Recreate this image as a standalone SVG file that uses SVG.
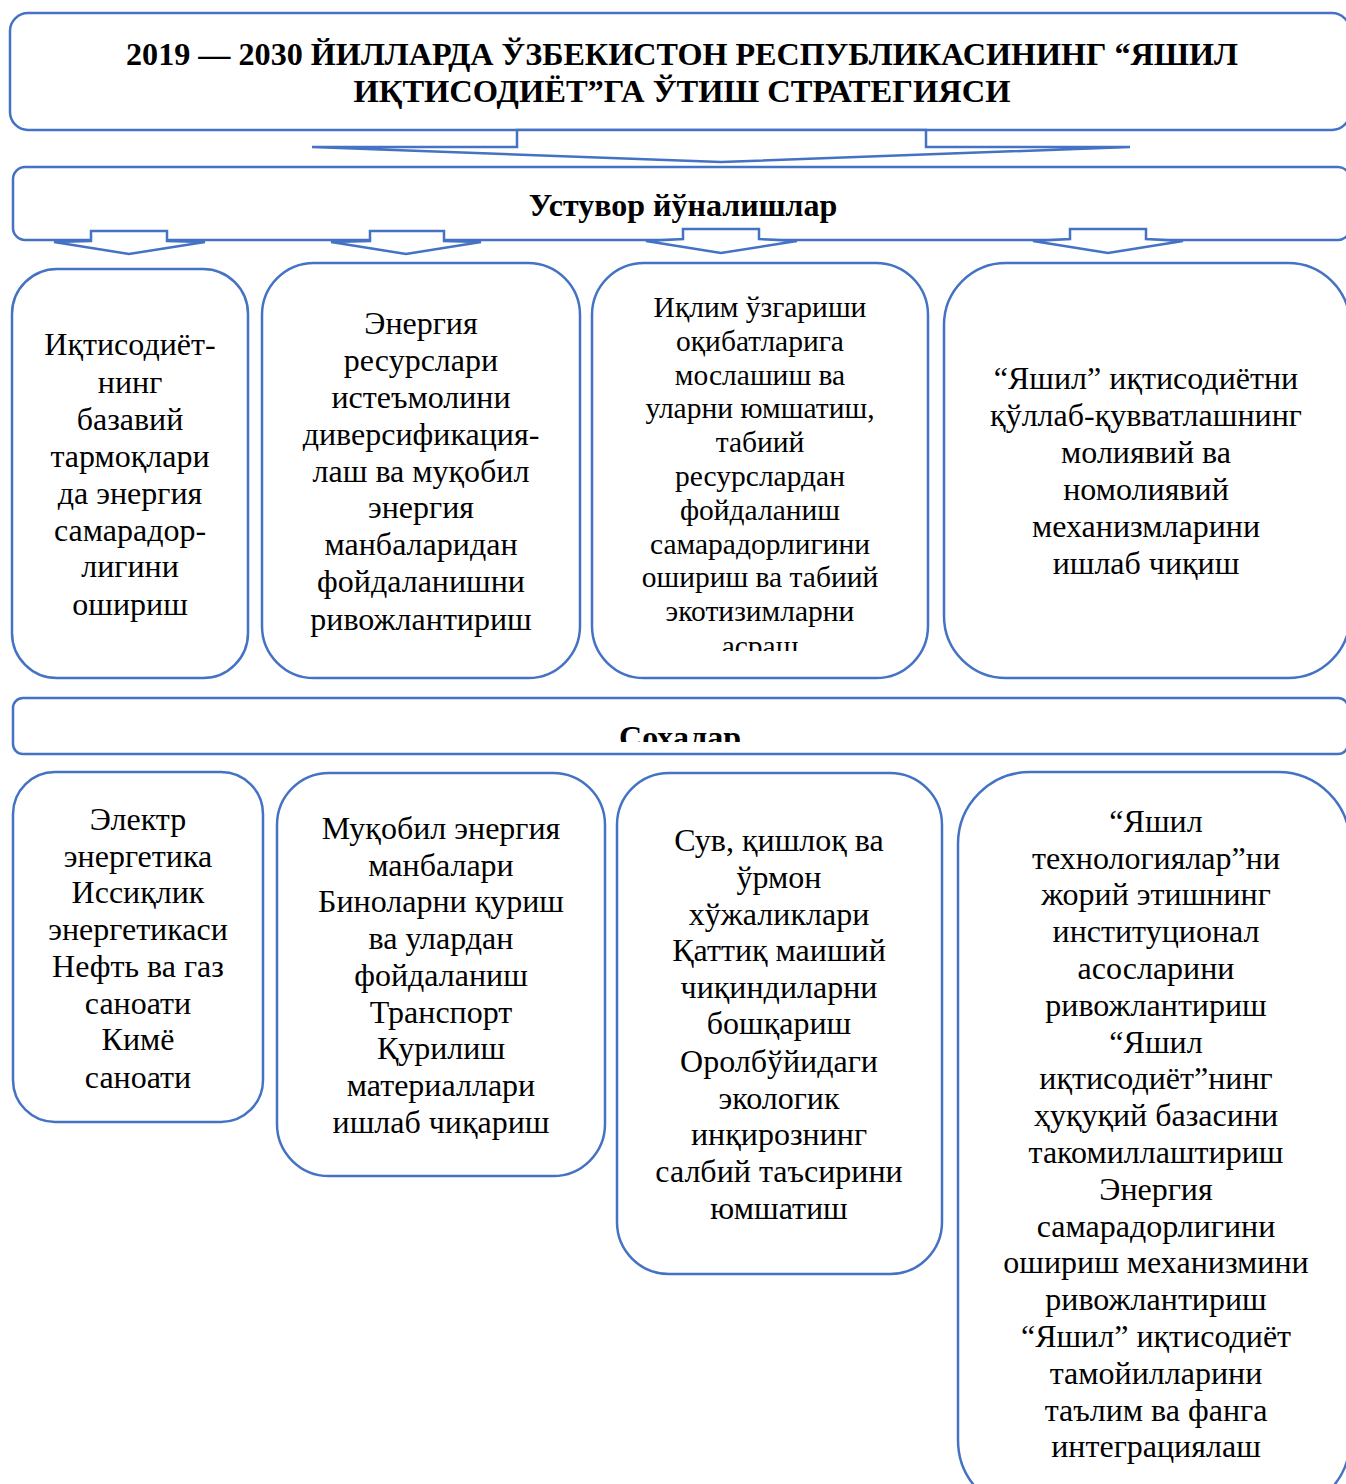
<svg xmlns="http://www.w3.org/2000/svg" width="1346" height="1484" viewBox="0 0 1346 1484">
<style>
.box{fill:#fff;stroke:#4472C4;stroke-width:2.5}
.arr{fill:#fff;stroke:#4472C4;stroke-width:2.5;stroke-linejoin:miter}
text{font-family:"Liberation Serif","Times New Roman",serif;fill:#000;text-anchor:middle}
.t{font-size:32px}
.s{font-size:29.5px}
.b{font-weight:bold;font-size:32px}
</style>
<defs>
<clipPath id="clipC"><rect x="592" y="263" width="336" height="388"/></clipPath>
<clipPath id="clipS"><rect x="13" y="698" width="1335" height="44"/></clipPath>
</defs>
<rect width="1346" height="1484" fill="#fff"/>

<g id="title">
<rect class="box" x="10" y="13" width="1340" height="117" rx="18"/>
<text class="b" x="682" y="65" textLength="1112" lengthAdjust="spacingAndGlyphs">2019 — 2030 ЙИЛЛАРДА ЎЗБЕКИСТОН РЕСПУБЛИКАСИНИНГ “ЯШИЛ</text>
<text class="b" x="682" y="102" textLength="657" lengthAdjust="spacingAndGlyphs">ИҚТИСОДИЁТ”ГА ЎТИШ СТРАТЕГИЯСИ</text>
</g>

<g id="priorities">
<rect class="box" x="13" y="167" width="1337" height="73" rx="12"/>
<text class="b" x="683" y="216">Устувор йўналишлар</text>
</g>

<g id="connectors">
<polygon class="arr" points="517,130 926,130 926,147 1130,147 721,162 312,147 517,147"/>
<polygon class="arr" points="91,231 167,231 167,241 205,242 129,254 54,242 91,241"/>
<polygon class="arr" points="370,231 444,231 444,241 481,242 406,254 331,242 370,241"/>
<polygon class="arr" points="683,229 759,229 759,239 797,241 721,253 646,241 683,239"/>
<polygon class="arr" points="1070,229 1146,229 1146,239 1183,241 1108,253 1033,241 1070,239"/>
</g>

<g id="p1">
<rect class="box" x="12" y="269" width="236" height="409" rx="45"/>
<text class="t" x="130"><tspan x="130" y="355">Иқтисодиёт-</tspan><tspan x="130" y="393">нинг</tspan><tspan x="130" y="430">базавий</tspan><tspan x="130" y="467">тармоқлари</tspan><tspan x="130" y="504">да энергия</tspan><tspan x="130" y="541">самарадор-</tspan><tspan x="130" y="577">лигини</tspan><tspan x="130" y="615">ошириш</tspan></text>
</g>

<g id="p2">
<rect class="box" x="262" y="263" width="318" height="415" rx="52"/>
<text class="t" x="421"><tspan x="421" y="334">Энергия</tspan><tspan x="421" y="371">ресурслари</tspan><tspan x="421" y="408">истеъмолини</tspan><tspan x="421" y="445">диверсификация-</tspan><tspan x="421" y="482">лаш ва муқобил</tspan><tspan x="421" y="518">энергия</tspan><tspan x="421" y="555">манбаларидан</tspan><tspan x="421" y="592">фойдаланишни</tspan><tspan x="421" y="630">ривожлантириш</tspan></text>
</g>

<g id="p3">
<rect class="box" x="592" y="263" width="336" height="415" rx="52"/>
<text class="s" x="760" clip-path="url(#clipC)"><tspan x="760" y="317">Иқлим ўзгариши</tspan><tspan x="760" y="351">оқибатларига</tspan><tspan x="760" y="385">мослашиш ва</tspan><tspan x="760" y="418">уларни юмшатиш,</tspan><tspan x="760" y="452">табиий</tspan><tspan x="760" y="486">ресурслардан</tspan><tspan x="760" y="520">фойдаланиш</tspan><tspan x="760" y="554">самарадорлигини</tspan><tspan x="760" y="587">ошириш ва табиий</tspan><tspan x="760" y="621">экотизимларни</tspan><tspan x="760" y="656">асраш</tspan></text>
</g>

<g id="p4">
<rect class="box" x="944" y="263" width="406" height="415" rx="62"/>
<text class="t" x="1146"><tspan x="1146" y="389">“Яшил” иқтисодиётни</tspan><tspan x="1146" y="426">қўллаб-қувватлашнинг</tspan><tspan x="1146" y="463">молиявий ва</tspan><tspan x="1146" y="500">номолиявий</tspan><tspan x="1146" y="537">механизмларини</tspan><tspan x="1146" y="574">ишлаб чиқиш</tspan></text>
</g>

<g id="sectors">
<rect class="box" x="13" y="698" width="1335" height="56" rx="10"/>
<text class="b" x="680" y="748" clip-path="url(#clipS)">Сохалар</text>
</g>

<g id="s1">
<rect class="box" x="13" y="772" width="250" height="350" rx="42"/>
<text class="t" x="138"><tspan x="138" y="830">Электр</tspan><tspan x="138" y="867">энергетика</tspan><tspan x="138" y="903">Иссиқлик</tspan><tspan x="138" y="940">энергетикаси</tspan><tspan x="138" y="977">Нефть ва газ</tspan><tspan x="138" y="1014">саноати</tspan><tspan x="138" y="1050">Кимё</tspan><tspan x="138" y="1088">саноати</tspan></text>
</g>

<g id="s2">
<rect class="box" x="277" y="773" width="328" height="403" rx="52"/>
<text class="t" x="441"><tspan x="441" y="839">Муқобил энергия</tspan><tspan x="441" y="876">манбалари</tspan><tspan x="441" y="912">Биноларни қуриш</tspan><tspan x="441" y="949">ва улардан</tspan><tspan x="441" y="986">фойдаланиш</tspan><tspan x="441" y="1023">Транспорт</tspan><tspan x="441" y="1059">Қурилиш</tspan><tspan x="441" y="1096">материаллари</tspan><tspan x="441" y="1133">ишлаб чиқариш</tspan></text>
</g>

<g id="s3">
<rect class="box" x="617" y="773" width="325" height="501" rx="52"/>
<text class="t" x="779"><tspan x="779" y="851">Сув, қишлоқ ва</tspan><tspan x="779" y="888">ўрмон</tspan><tspan x="779" y="925">хўжаликлари</tspan><tspan x="779" y="961">Қаттиқ маиший</tspan><tspan x="779" y="998">чиқиндиларни</tspan><tspan x="779" y="1034">бошқариш</tspan><tspan x="779" y="1072">Оролбўйидаги</tspan><tspan x="779" y="1109">экологик</tspan><tspan x="779" y="1145">инқирознинг</tspan><tspan x="779" y="1182">салбий таъсирини</tspan><tspan x="779" y="1219">юмшатиш</tspan></text>
</g>

<g id="s4">
<rect class="box" x="958" y="772" width="392" height="740" rx="72"/>
<text class="t" x="1156"><tspan x="1156" y="832">“Яшил</tspan><tspan x="1156" y="869">технологиялар”ни</tspan><tspan x="1156" y="905">жорий этишнинг</tspan><tspan x="1156" y="942">институционал</tspan><tspan x="1156" y="979">асосларини</tspan><tspan x="1156" y="1016">ривожлантириш</tspan><tspan x="1156" y="1053">“Яшил</tspan><tspan x="1156" y="1089">иқтисодиёт”нинг</tspan><tspan x="1156" y="1126">ҳуқуқий базасини</tspan><tspan x="1156" y="1163">такомиллаштириш</tspan><tspan x="1156" y="1200">Энергия</tspan><tspan x="1156" y="1237">самарадорлигини</tspan><tspan x="1156" y="1273">ошириш механизмини</tspan><tspan x="1156" y="1310">ривожлантириш</tspan><tspan x="1156" y="1347">“Яшил” иқтисодиёт</tspan><tspan x="1156" y="1384">тамойилларини</tspan><tspan x="1156" y="1421">таълим ва фанга</tspan><tspan x="1156" y="1457">интеграциялаш</tspan></text>
</g>
</svg>
